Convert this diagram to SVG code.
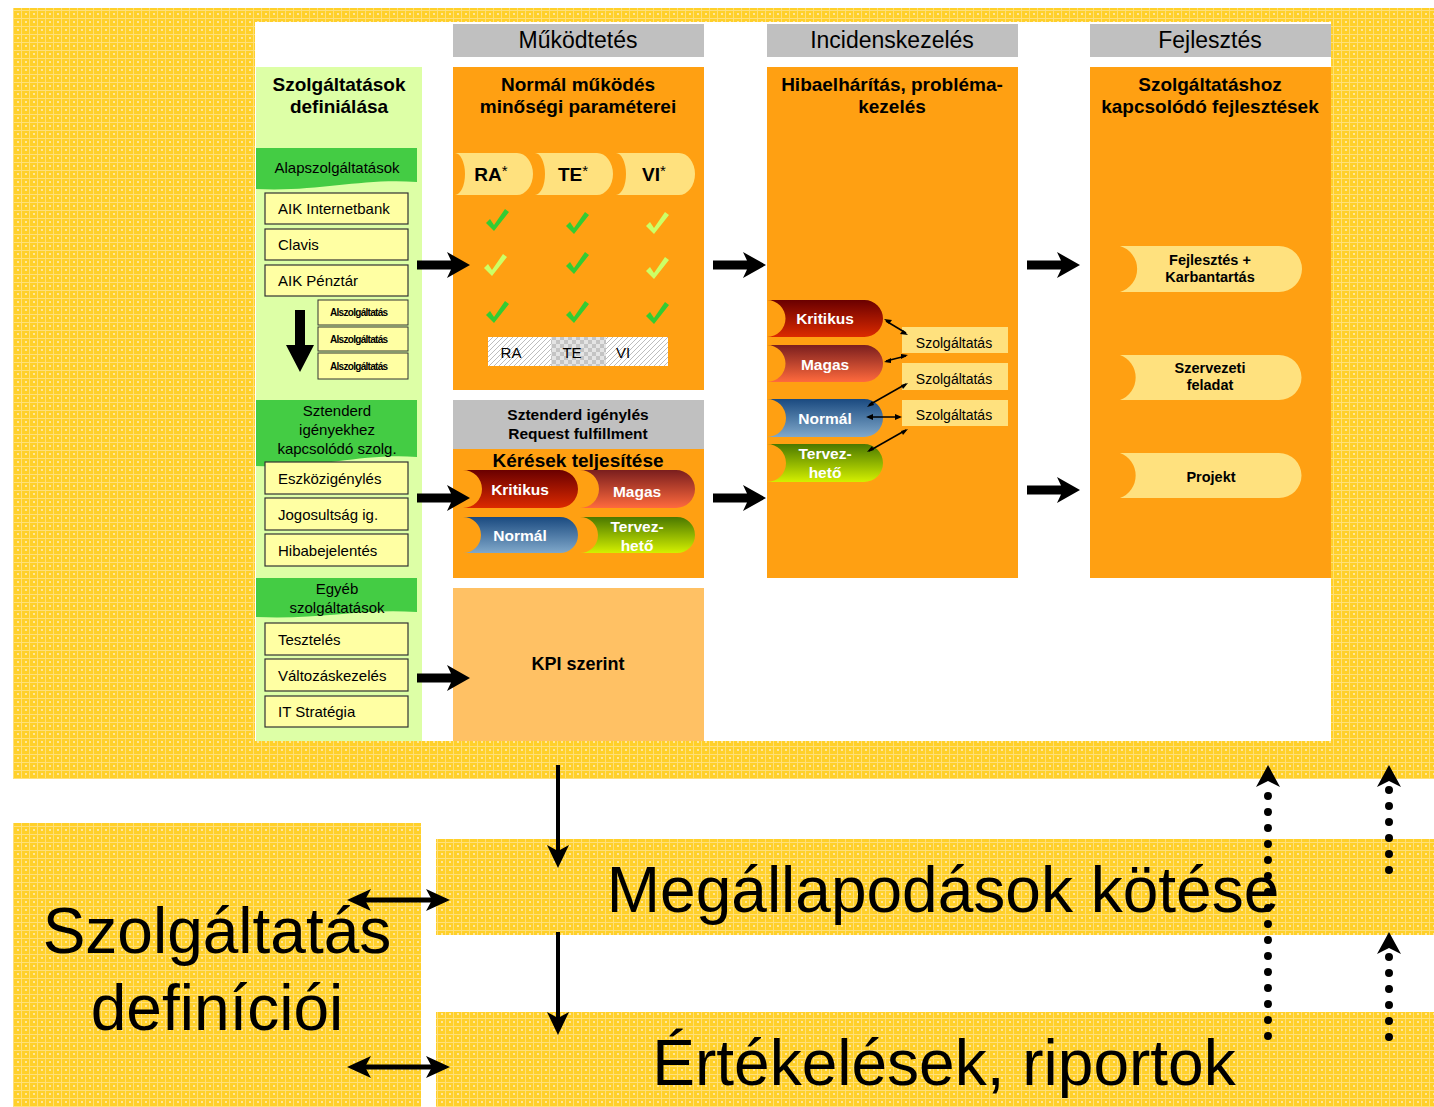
<svg xmlns="http://www.w3.org/2000/svg" width="1434" height="1107" viewBox="0 0 1434 1107">
<style>
text{font-family:"Liberation Sans",Arial,sans-serif;fill:#000}
.t{font-weight:bold;font-size:19px;text-anchor:middle}
.hd{font-size:23px;text-anchor:middle}
.box{fill:#FFFFA3;stroke:#333;stroke-width:1.2}
.sbox{fill:#FFFFA3;stroke:#333;stroke-width:1}
.bt{font-size:15px}
.st{font-size:10px;font-weight:bold;letter-spacing:-0.7px}
.ban{fill:#44CC44}
.bant{font-size:15px;text-anchor:middle}
.pw{fill:#fff;font-weight:bold;font-size:15.5px;text-anchor:middle}
.py{font-weight:bold;font-size:14.5px;text-anchor:middle}
.big{font-size:64px;text-anchor:middle}
.gray{fill:#C0C0C0}
.org{fill:#FFA012}
.lite{fill:#FFE17E}
.cg{fill:#33CC33}
.cl{fill:#CCFF66}
.ar{fill:#000}
.dot{stroke:#000;stroke-width:8;stroke-linecap:round;stroke-dasharray:0 16;fill:none}
.thin{stroke:#000;stroke-width:1.5;fill:none}
</style>
<defs>
<pattern id="yp" width="8" height="8" patternUnits="userSpaceOnUse">
<rect width="8" height="8" fill="#FFD02A"/>
<rect y="2" width="8" height="1" fill="#FFE07A"/>
<rect x="5" width="1" height="8" fill="#FFDF78"/>
<rect x="1" y="5" width="2" height="2" fill="#FFE69A"/>
</pattern>
<pattern id="hatch" width="5" height="5" patternUnits="userSpaceOnUse">
<rect width="5" height="5" fill="#fff"/>
<path d="M-1,6 L6,-1" stroke="#BDBDBD" stroke-width="1"/>
</pattern>
<pattern id="chk" width="8" height="8" patternUnits="userSpaceOnUse">
<rect width="8" height="8" fill="#E4E4E4"/>
<rect width="4" height="4" fill="#C4C4C4"/>
<rect x="4" y="4" width="4" height="4" fill="#C4C4C4"/>
</pattern>
<linearGradient id="gK" x1="0" y1="0" x2="0" y2="1"><stop offset="0" stop-color="#6A0000"/><stop offset="1" stop-color="#DC2A00"/></linearGradient>
<linearGradient id="gM" x1="0" y1="0" x2="0" y2="1"><stop offset="0" stop-color="#7A1E1E"/><stop offset="1" stop-color="#FF6A3D"/></linearGradient>
<linearGradient id="gN" x1="0" y1="0" x2="0" y2="1"><stop offset="0" stop-color="#1A4A80"/><stop offset="1" stop-color="#80A8CA"/></linearGradient>
<linearGradient id="gT" x1="0" y1="0" x2="0" y2="1"><stop offset="0" stop-color="#4A7800"/><stop offset="1" stop-color="#D4F000"/></linearGradient>
<path id="chkm" d="M-11,3 L-7,-1 L-3,5 L8,-11 L12,-8 L-3,11 Z"/>
</defs>

<!-- background -->
<rect x="0" y="0" width="1434" height="1107" fill="#fff"/>
<rect x="13" y="8" width="1421" height="771" fill="url(#yp)"/>
<rect x="255" y="22" width="1076" height="719" fill="#fff"/>

<!-- left column -->
<g id="col-definialas">
<rect x="256" y="67" width="166" height="674" fill="#DDFFA6"/>
<text class="t" x="339" y="91">Szolgáltatások</text>
<text class="t" x="339" y="113">definiálása</text>
</g>
<g id="ban-alap">
<path class="ban" d="M256,148 H417 V182 C360,178 320,192 256,189 Z"/>
<text class="bant" x="337" y="173">Alapszolgáltatások</text>
</g>
<g id="n-aik-internetbank"><rect class="box" x="265" y="193" width="143" height="31"/><text class="bt" x="278" y="214">AIK Internetbank</text></g>
<g id="n-clavis"><rect class="box" x="265" y="229" width="143" height="31"/><text class="bt" x="278" y="250">Clavis</text></g>
<g id="n-aik-penztar"><rect class="box" x="265" y="265" width="143" height="31"/><text class="bt" x="278" y="286">AIK Pénztár</text></g>
<g id="n-alszolg1"><rect class="sbox" x="318" y="300" width="90" height="25"/><text class="st" x="330" y="316">Alszolgáltatás</text></g>
<g id="n-alszolg2"><rect class="sbox" x="318" y="327" width="90" height="24"/><text class="st" x="330" y="343">Alszolgáltatás</text></g>
<g id="n-alszolg3"><rect class="sbox" x="318" y="353" width="90" height="26"/><text class="st" x="330" y="370">Alszolgáltatás</text></g>
<g id="ban-sztenderd">
<path class="ban" d="M256,400 H417 V457 C360,453 320,469 256,466 Z"/>
<text class="bant" x="337" y="416">Sztenderd</text>
<text class="bant" x="337" y="435">igényekhez</text>
<text class="bant" x="337" y="454">kapcsolódó szolg.</text>
</g>
<g id="n-eszkoz"><rect class="box" x="265" y="462" width="143" height="32"/><text class="bt" x="278" y="484">Eszközigénylés</text></g>
<g id="n-jogosultsag"><rect class="box" x="265" y="498" width="143" height="32"/><text class="bt" x="278" y="520">Jogosultság ig.</text></g>
<g id="n-hibabejelentes"><rect class="box" x="265" y="534" width="143" height="32"/><text class="bt" x="278" y="556">Hibabejelentés</text></g>
<g id="ban-egyeb">
<path class="ban" d="M256,578 H417 V612 C360,608 320,620 256,617 Z"/>
<text class="bant" x="337" y="594">Egyéb</text>
<text class="bant" x="337" y="613">szolgáltatások</text>
</g>
<g id="n-teszteles"><rect class="box" x="265" y="623" width="143" height="32"/><text class="bt" x="278" y="645">Tesztelés</text></g>
<g id="n-valtozas"><rect class="box" x="265" y="659" width="143" height="32"/><text class="bt" x="278" y="681">Változáskezelés</text></g>
<g id="n-itstrategia"><rect class="box" x="265" y="696" width="143" height="31"/><text class="bt" x="278" y="717">IT Stratégia</text></g>

<!-- headers -->
<g id="h-mukodtetes"><rect class="gray" x="453" y="24" width="251" height="33"/><text class="hd" x="578" y="48">Működtetés</text></g>
<g id="h-incidens"><rect class="gray" x="767" y="24" width="251" height="33"/><text class="hd" x="892" y="48">Incidenskezelés</text></g>
<g id="h-fejlesztes"><rect class="gray" x="1090" y="24" width="241" height="33"/><text class="hd" x="1210" y="48">Fejlesztés</text></g>

<!-- Normal mukodes -->
<g id="n-normal-mukodes">
<rect class="org" x="453" y="67" width="251" height="323"/>
<text class="t" x="578" y="91">Normál működés</text>
<text class="t" x="578" y="113">minőségi paraméterei</text>
<path class="lite" d="M455,153 H517 A16,21 0 0 1 517,195 H455 A10,21 0 0 0 455,153 Z"/>
<path class="lite" d="M535,153 H597 A16,21 0 0 1 597,195 H535 A10,21 0 0 0 535,153 Z"/>
<path class="lite" d="M616,153 H679 A16,21 0 0 1 679,195 H616 A10,21 0 0 0 616,153 Z"/>
<text x="491" y="181" font-size="19" font-weight="bold" text-anchor="middle">RA<tspan font-size="15" font-weight="normal" dy="-5">*</tspan></text>
<text x="573" y="181" font-size="19" font-weight="bold" text-anchor="middle">TE<tspan font-size="15" font-weight="normal" dy="-5">*</tspan></text>
<text x="654" y="181" font-size="19" font-weight="bold" text-anchor="middle">VI<tspan font-size="15" font-weight="normal" dy="-5">*</tspan></text>
<use href="#chkm" class="cg" x="497" y="220"/>
<use href="#chkm" class="cg" x="577" y="223"/>
<use href="#chkm" class="cl" x="657" y="223"/>
<use href="#chkm" class="cl" x="495" y="265"/>
<use href="#chkm" class="cg" x="577" y="263"/>
<use href="#chkm" class="cl" x="657" y="268"/>
<use href="#chkm" class="cg" x="497" y="312"/>
<use href="#chkm" class="cg" x="577" y="312"/>
<use href="#chkm" class="cg" x="657" y="313"/>
<rect x="488" y="337" width="180" height="29" fill="url(#hatch)"/>
<rect x="551" y="337" width="55" height="29" fill="url(#chk)"/>
<text x="511" y="358" font-size="15" text-anchor="middle" fill="#222">RA</text>
<text x="572" y="358" font-size="15" text-anchor="middle" fill="#222">TE</text>
<text x="623" y="358" font-size="15" text-anchor="middle" fill="#222">VI</text>
</g>

<!-- Request fulfillment -->
<g id="n-request">
<rect class="gray" x="453" y="400" width="251" height="49"/>
<rect class="org" x="453" y="449" width="251" height="129"/>
<text x="578" y="420" font-size="15.5" font-weight="bold" text-anchor="middle">Sztenderd igénylés</text>
<text x="578" y="439" font-size="15.5" font-weight="bold" text-anchor="middle">Request fulfillment</text>
<text class="t" x="578" y="467">Kérések teljesítése</text>
<path fill="url(#gK)" d="M463,470 H559 A19,19 0 0 1 559,508 H463 A19,19 0 0 0 463,470 Z"/>
<path fill="url(#gM)" d="M580,470 H676 A19,19 0 0 1 676,508 H580 A19,19 0 0 0 580,470 Z"/>
<path fill="url(#gN)" d="M463,517 H560 A18,18 0 0 1 560,553 H463 A18,18 0 0 0 463,517 Z"/>
<path fill="url(#gT)" d="M580,517 H677 A18,18 0 0 1 677,553 H580 A18,18 0 0 0 580,517 Z"/>
<text class="pw" x="520" y="495">Kritikus</text>
<text class="pw" x="637" y="497">Magas</text>
<text class="pw" x="520" y="541">Normál</text>
<text class="pw" x="637" y="532">Tervez-</text>
<text class="pw" x="637" y="551">hető</text>
</g>

<g id="n-kpi">
<rect x="453" y="588" width="251" height="153" fill="#FFC164"/>
<text x="578" y="670" font-size="18" font-weight="bold" text-anchor="middle">KPI szerint</text>
</g>

<!-- Incidenskezeles -->
<g id="n-incidens">
<rect class="org" x="767" y="67" width="251" height="511"/>
<text class="t" x="892" y="91">Hibaelhárítás, probléma-</text>
<text class="t" x="892" y="113">kezelés</text>
<path fill="url(#gK)" d="M767,300 H864.5 A18.5,18.5 0 0 1 864.5,337 H767 A18.5,18.5 0 0 0 767,300 Z"/>
<path fill="url(#gM)" d="M767,345 H864.5 A18.5,18.5 0 0 1 864.5,382 H767 A18.5,18.5 0 0 0 767,345 Z"/>
<path fill="url(#gN)" d="M767,399 H864 A19,19 0 0 1 864,437 H767 A19,19 0 0 0 767,399 Z"/>
<path fill="url(#gT)" d="M767,444 H864 A19,19 0 0 1 864,482 H767 A19,19 0 0 0 767,444 Z"/>
<text class="pw" x="825" y="324">Kritikus</text>
<text class="pw" x="825" y="370">Magas</text>
<text class="pw" x="825" y="424">Normál</text>
<text class="pw" x="825" y="459">Tervez-</text>
<text class="pw" x="825" y="478">hető</text>
</g>
<g id="n-szolg1"><rect class="lite" x="902" y="327" width="106" height="26"/><text x="954" y="348" font-size="14" text-anchor="middle">Szolgáltatás</text></g>
<g id="n-szolg2"><rect class="lite" x="902" y="363" width="106" height="27"/><text x="954" y="384" font-size="14" text-anchor="middle">Szolgáltatás</text></g>
<g id="n-szolg3"><rect class="lite" x="902" y="400" width="106" height="26"/><text x="954" y="420" font-size="14" text-anchor="middle">Szolgáltatás</text></g>

<!-- Fejlesztes -->
<g id="n-fejlesztes">
<rect class="org" x="1090" y="67" width="241" height="511"/>
<text class="t" x="1210" y="91">Szolgáltatáshoz</text>
<text class="t" x="1210" y="113">kapcsolódó fejlesztések</text>
<path class="lite" d="M1120,246 H1279 A23,23 0 0 1 1279,292 H1120 A24,24 0 0 0 1120,246 Z"/>
<path class="lite" d="M1120,355 H1279 A22.5,22.5 0 0 1 1279,400 H1120 A24,24 0 0 0 1120,355 Z"/>
<path class="lite" d="M1120,453 H1279 A22.5,22.5 0 0 1 1279,498 H1120 A24,24 0 0 0 1120,453 Z"/>
<text class="py" x="1210" y="265">Fejlesztés +</text>
<text class="py" x="1210" y="282">Karbantartás</text>
<text class="py" x="1210" y="373">Szervezeti</text>
<text class="py" x="1210" y="390">feladat</text>
<text class="py" x="1211" y="482" font-size="15">Projekt</text>
</g>

<!-- bottom -->
<g id="n-szolg-definicioi">
<rect x="13" y="823" width="408" height="284" fill="url(#yp)"/>
<text class="big" x="217" y="953">Szolgáltatás</text>
<text class="big" x="217" y="1030">definíciói</text>
</g>
<g id="n-megallapodasok">
<rect x="436" y="839" width="998" height="96" fill="url(#yp)"/>
<text class="big" x="943" y="912">Megállapodások kötése</text>
</g>
<g id="n-ertekelesek">
<rect x="436" y="1012" width="998" height="95" fill="url(#yp)"/>
<text class="big" x="944" y="1085">Értékelések, riportok</text>
</g>

<!-- connectors -->
<g id="connectors">
<polygon class="ar" points="417,260.5 451,260.5 447,252 470,265 447,278 451,269.5 417,269.5"/>
<polygon class="ar" points="713,260.5 747,260.5 743,252 766,265 743,278 747,269.5 713,269.5"/>
<polygon class="ar" points="1027,260.5 1061,260.5 1057,252 1080,265 1057,278 1061,269.5 1027,269.5"/>
<polygon class="ar" points="417,493.5 451,493.5 447,485 470,498 447,511 451,502.5 417,502.5"/>
<polygon class="ar" points="713,493.5 747,493.5 743,485 766,498 743,511 747,502.5 713,502.5"/>
<polygon class="ar" points="1027,485.5 1061,485.5 1057,477 1080,490 1057,503 1061,494.5 1027,494.5"/>
<polygon class="ar" points="417,673.5 451,673.5 447,665 470,678 447,691 451,682.5 417,682.5"/>
<polygon class="ar" points="295,310 305,310 305,345 314,345 300,372 286,345 295,345"/>
<g class="thin">
<line x1="886" y1="321" x2="906" y2="333"/>
<line x1="886" y1="361" x2="906" y2="356"/>
<line x1="869" y1="405" x2="906" y2="384"/>
<line x1="868" y1="417" x2="900" y2="417"/>
<line x1="869" y1="451" x2="906" y2="430"/>
</g>
<g class="ar">
<polygon points="884,319 892,320 889,324"/><polygon points="908,335 900,334 903,330"/>
<polygon points="884,362 891,358 891,363"/><polygon points="908,355 901,359 901,354"/>
<polygon points="867,407 872,401 874,405"/><polygon points="908,383 903,389 901,385"/>
<polygon points="866,417 873,414 873,420"/><polygon points="902,417 895,414 895,420"/>
<polygon points="867,452 872,446 874,450"/><polygon points="908,429 903,435 901,431"/>
</g>
<line x1="558" y1="765" x2="558" y2="852" stroke="#000" stroke-width="4"/>
<polygon class="ar" points="558,868 547,845 558,851 569,845"/>
<line x1="558" y1="932" x2="558" y2="1019" stroke="#000" stroke-width="4"/>
<polygon class="ar" points="558,1035 547,1012 558,1018 569,1012"/>
<line x1="362" y1="900" x2="436" y2="900" stroke="#000" stroke-width="5"/>
<polygon class="ar" points="347,900 371,889 365,900 371,911"/>
<polygon class="ar" points="450,900 426,889 432,900 426,911"/>
<line x1="362" y1="1067" x2="436" y2="1067" stroke="#000" stroke-width="5"/>
<polygon class="ar" points="347,1067 371,1056 365,1067 371,1078"/>
<polygon class="ar" points="450,1067 426,1056 432,1067 426,1078"/>
<line class="dot" x1="1268" y1="796" x2="1268" y2="1037"/>
<polygon class="ar" points="1268,765 1280,787 1268,781 1256,787"/>
<line class="dot" x1="1389" y1="790" x2="1389" y2="871"/>
<polygon class="ar" points="1389,765 1401,787 1389,781 1377,787"/>
<line class="dot" x1="1389" y1="957" x2="1389" y2="1038"/>
<polygon class="ar" points="1389,932 1401,954 1389,948 1377,954"/>
</g>
</svg>
